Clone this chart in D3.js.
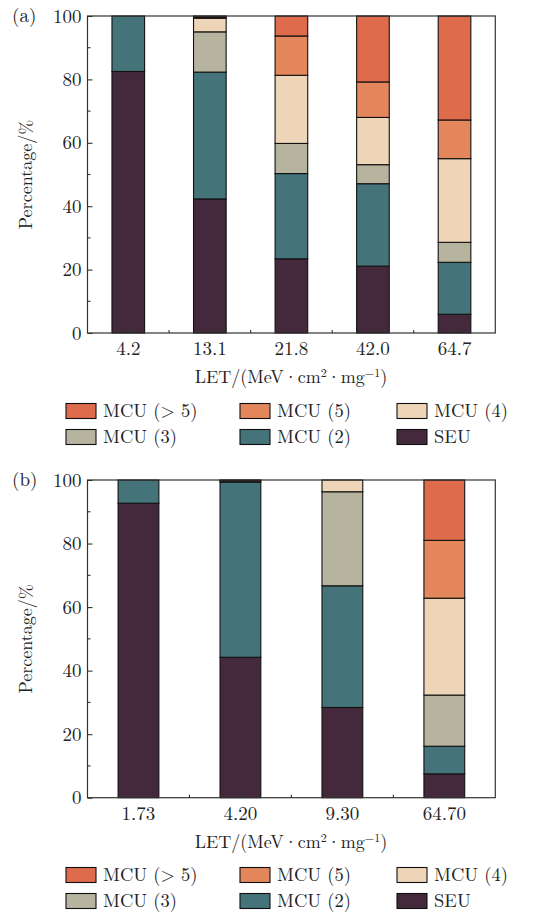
<!DOCTYPE html>
<html>
<head>
<meta charset="utf-8">
<script src="https://cdn.jsdelivr.net/npm/d3@7"></script>
<style>
  body { margin: 0; background: #fff; }
  svg text { font-family: "Latin Modern Roman", "CMU Serif", "Liberation Serif", serif; fill: #222; }
</style>
</head>
<body>
<svg id="chart" width="534" height="914"></svg>
<script>
// series order bottom -> top
const seriesNames = ['SEU', 'MCU (2)', 'MCU (3)', 'MCU (4)', 'MCU (5)', 'MCU (> 5)'];
const seriesColors = ['#44293d', '#44737a', '#b6b49f', '#eed5b7', '#e5875c', '#de6b4c'];

// panel (a)
const letA = ['4.2', '13.1', '21.8', '42.0', '64.7'];
const seuA = [82.5, 42.3, 23.4, 21.1, 5.9];
const mcu2A = [17.5, 40.0, 26.9, 26.0, 16.4];
const mcu3A = [0, 12.7, 9.5, 6.0, 6.3];
const mcu4A = [0, 4.3, 21.5, 14.9, 26.4];
const mcu5A = [0, 0.3, 12.4, 11.2, 12.2];
const mcu6A = [0, 0.4, 6.3, 20.8, 32.8];

// panel (b)
const letB = ['1.73', '4.20', '9.30', '64.70'];
const seuB = [92.7, 44.2, 28.4, 7.5];
const mcu2B = [7.3, 55.1, 38.3, 8.7];
const mcu3B = [0, 0.4, 29.6, 16.1];
const mcu4B = [0, 0.2, 3.7, 30.5];
const mcu5B = [0, 0.1, 0, 18.2];
const mcu6B = [0, 0, 0, 19.0];

const yTicks = [0, 20, 40, 60, 80, 100];

const svg = d3.select('#chart');

function drawPanel(cfg) {
	const g = svg.append('g');
	const x = d3.scaleBand().domain(cfg.cats).range([87.5, 495.3]).paddingInner(0).paddingOuter(0);
	const y = d3.scaleLinear().domain([0, 100]).range([cfg.bottom, cfg.top]);
	const barW = x.bandwidth() * 0.4;

	// stack rows
	const rows = cfg.cats.map((c, i) => {
		const r = { cat: c };
		seriesNames.forEach((s, k) => { r[s] = cfg.series[k][i]; });
		return r;
	});
	const stacked = d3.stack().keys(seriesNames)(rows);

	g.selectAll('g.layer')
		.data(stacked)
		.enter()
		.append('g')
		.attr('class', 'layer')
		.attr('fill', (d, k) => seriesColors[k])
		.selectAll('rect')
		.data(d => d.filter(p => p[1] - p[0] > 0))
		.enter()
		.append('rect')
		.attr('x', d => x(d.data.cat) + (x.bandwidth() - barW) / 2)
		.attr('width', barW)
		.attr('y', d => y(d[1]))
		.attr('height', d => y(d[0]) - y(d[1]))
		.attr('stroke', '#111')
		.attr('stroke-width', 1.1);

	// frame
	const [x0, x1] = x.range();
	g.append('rect')
		.attr('x', x0).attr('y', cfg.top)
		.attr('width', x1 - x0).attr('height', cfg.bottom - cfg.top)
		.attr('fill', 'none').attr('stroke', '#333').attr('stroke-width', 1.2);

	// y axis ticks (inward)
	const yAxis = d3.axisLeft(y).tickValues(yTicks).tickSize(-5).tickPadding(6);
	const gY = g.append('g').attr('transform', `translate(${x0},0)`).call(yAxis);
	gY.select('.domain').remove();
	gY.selectAll('line').attr('stroke', '#333').attr('stroke-width', 1.1);
	gY.selectAll('text').attr('font-size', 19).style('font-family', null);
	const minorY = d3.range(10, 100, 20);
	g.selectAll('line.minor-y').data(minorY).enter().append('line')
		.attr('class', 'minor-y')
		.attr('x1', x0).attr('x2', x0 + 3)
		.attr('y1', d => y(d)).attr('y2', d => y(d))
		.attr('stroke', '#333').attr('stroke-width', 1.1);

	// x axis ticks (inward)
	const xAxis = d3.axisBottom(x).tickSize(-5).tickPadding(9);
	const gX = g.append('g').attr('transform', `translate(0,${cfg.bottom})`).call(xAxis);
	gX.select('.domain').remove();
	gX.selectAll('line').attr('stroke', '#333').attr('stroke-width', 1.1);
	gX.selectAll('text').attr('font-size', 19).style('font-family', null);
	const minorX = cfg.cats.slice(1).map(c => x(c));
	g.selectAll('line.minor-x').data(minorX).enter().append('line')
		.attr('class', 'minor-x')
		.attr('x1', d => d).attr('x2', d => d)
		.attr('y1', cfg.bottom).attr('y2', cfg.bottom - 3)
		.attr('stroke', '#333').attr('stroke-width', 1.1);

	// axis titles
	const xt = g.append('text')
		.attr('x', 291).attr('y', cfg.bottom + 50)
		.attr('text-anchor', 'middle').attr('font-size', 18);
	xt.append('tspan').text('LET/(MeV·cm');
	xt.append('tspan').attr('font-size', 12).attr('dy', -6).text('2');
	xt.append('tspan').attr('dy', 6).text('·mg');
	xt.append('tspan').attr('font-size', 12).attr('dy', -6).text('−1');
	xt.append('tspan').attr('dy', 6).text(')');

	g.append('text')
		.attr('transform', `translate(32,${(cfg.top + cfg.bottom) / 2}) rotate(-90)`)
		.attr('text-anchor', 'middle').attr('font-size', 18)
		.text('Percentage/%');

	g.append('text')
		.attr('x', 12).attr('y', cfg.top + 6)
		.attr('font-size', 19)
		.text(cfg.label);

	// legend
	const legendOrder = [5, 4, 3, 2, 1, 0];
	const colX = [66, 240, 397];
	const lg = g.selectAll('g.legend').data(legendOrder).enter().append('g')
		.attr('class', 'legend')
		.attr('transform', (d, i) => `translate(${colX[i % 3]},${cfg.legendY + Math.floor(i / 3) * 26})`);
	lg.append('rect')
		.attr('x', 0).attr('y', -7.5).attr('width', 30).attr('height', 15)
		.attr('fill', d => seriesColors[d]).attr('stroke', '#111').attr('stroke-width', 1.1);
	lg.append('text')
		.attr('x', 37).attr('y', 6)
		.attr('font-size', 18.5)
		.text(d => seriesNames[d]);
}

drawPanel({
	label: '(a)', cats: letA, top: 16, bottom: 333, legendY: 411,
	series: [seuA, mcu2A, mcu3A, mcu4A, mcu5A, mcu6A]
});
drawPanel({
	label: '(b)', cats: letB, top: 480, bottom: 797.7, legendY: 875,
	series: [seuB, mcu2B, mcu3B, mcu4B, mcu5B, mcu6B]
});
</script>
</body>
</html>
